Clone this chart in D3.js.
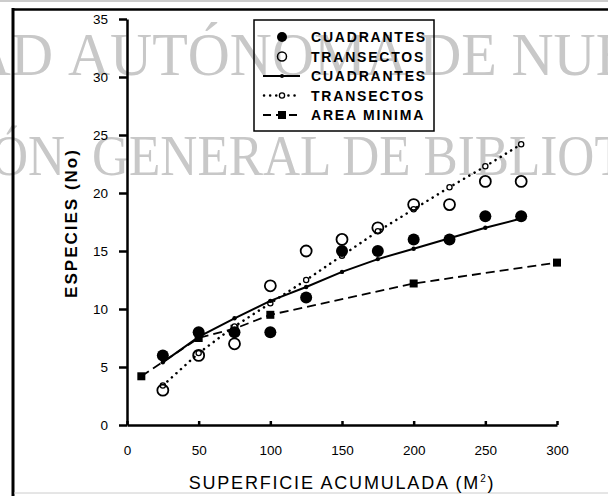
<!DOCTYPE html>
<html lang="es">
<head>
<meta charset="UTF-8">
<title>Especies vs superficie acumulada</title>
<script src="https://cdn.jsdelivr.net/npm/d3@7"></script>
<style>
  body { margin: 0; background: #fff; }
  svg { display: block; }
  .axis path, .axis line { stroke: #000; stroke-width: 2.5px; }
  .axis text { font: 13.5px "Liberation Sans", Arial, sans-serif; fill: #000; }
  .legend text { font: bold 14px "Liberation Sans", Arial, sans-serif; letter-spacing: 1.8px; }
  .wm { font-family: "Liberation Serif", "Times New Roman", serif; fill: #c8c8c8; }
</style>
</head>
<body>
<script>
// datos
const superficie = [25, 50, 75, 100, 125, 150, 175, 200, 225, 250, 275];
const cuadrantesObs = [6, 8, 8, 8, 11, 15, 15, 16, 16, 18, 18];
const transectosObs = [3, 6, 7, 12, 15, 16, 17, 19, 19, 21, 21];
const cuadrantesAjuste = [5.4, 7.6, 9.2, 10.7, 11.9, 13.2, 14.3, 15.2, 16.1, 17.0, 17.8];
const transectosAjuste = [3.4, 6.2, 8.5, 10.5, 12.5, 14.6, 16.7, 18.6, 20.5, 22.3, 24.2];
const areaMinX = [10, 50, 75, 100, 200, 300];
const areaMinY = [4.2, 7.5, 8.3, 9.5, 12.2, 14.0];
const xTicks = [0, 50, 100, 150, 200, 250, 300];
const yTicks = [0, 5, 10, 15, 20, 25, 30, 35];
const leyenda = ["CUADRANTES", "TRANSECTOS", "CUADRANTES", "TRANSECTOS", "AREA MINIMA"];

const width = 608, height = 496;
const svg = d3.select("body").append("svg")
  .attr("width", width).attr("height", height);

// marca de agua del escaneo
const wm1 = svg.append("g").attr("transform", "translate(0,75) scale(0.94,1)");
wm1.append("text").attr("class", "wm").attr("font-size", 62)
  .attr("x", 53 / 0.94).attr("text-anchor", "end").text("UNIVERSIDAD");
wm1.append("text").attr("class", "wm").attr("font-size", 62)
  .attr("x", 68 / 0.94).text("AUTÓNOMA DE NUEVO LEÓN");
const wm2 = svg.append("g").attr("transform", "translate(0,175) scale(0.9,1)");
wm2.append("text").attr("class", "wm").attr("font-size", 57)
  .attr("x", 65 / 0.9).attr("text-anchor", "end").text("DIRECCIÓN");
wm2.append("text").attr("class", "wm").attr("font-size", 57)
  .attr("x", 92 / 0.9).text("GENERAL DE BIBLIOTECAS");

// marco de la pagina
svg.append("line").attr("x1", 0).attr("x2", width).attr("y1", 1).attr("y2", 1)
  .attr("stroke", "#bbb").attr("stroke-width", 1.5);
svg.append("line").attr("x1", 13).attr("x2", width).attr("y1", 9.5).attr("y2", 9.5)
  .attr("stroke", "#000").attr("stroke-width", 2.5);
svg.append("line").attr("x1", 13).attr("x2", 13).attr("y1", 8).attr("y2", height)
  .attr("stroke", "#000").attr("stroke-width", 3);
svg.append("line").attr("x1", 14).attr("x2", width).attr("y1", 493).attr("y2", 493)
  .attr("stroke", "#ccc").attr("stroke-width", 1);

const x = d3.scaleLinear().domain([0, 300]).range([127, 557]);
const y = d3.scaleLinear().domain([0, 35]).range([425, 19]);

svg.append("g").attr("class", "axis")
  .attr("transform", "translate(0,425)")
  .call(d3.axisBottom(x).tickValues(xTicks).tickSizeInner(-4).tickSizeOuter(0).tickPadding(20));

svg.append("g").attr("class", "axis")
  .attr("transform", "translate(127,0)")
  .call(d3.axisLeft(y).tickValues(yTicks).tickSizeInner(8).tickSizeOuter(0).tickPadding(11));

svg.selectAll(".axis line").attr("stroke-width", 1.5);

// titulos
const xt = svg.append("text")
  .attr("x", 342).attr("y", 489).attr("text-anchor", "middle")
  .style("font", "18px 'Liberation Sans', Arial, sans-serif")
  .style("letter-spacing", "1.8px");
xt.append("tspan").text("SUPERFICIE ACUMULADA (M");
xt.append("tspan").attr("dy", -7).style("font-size", "10px").text("2");
xt.append("tspan").attr("dy", 7).text(")");

svg.append("text")
  .attr("transform", "translate(77,223) rotate(-90)")
  .attr("text-anchor", "middle")
  .style("font", "bold 17px 'Liberation Sans', Arial, sans-serif")
  .style("letter-spacing", "2px")
  .text("ESPECIES (No)");

// curvas
const line = d3.line().x(d => x(d[0])).y(d => y(d[1]));
const ptsCuad = superficie.map((s, i) => [s, cuadrantesAjuste[i]]);
const ptsTrans = superficie.map((s, i) => [s, transectosAjuste[i]]);
const ptsArea = areaMinX.map((s, i) => [s, areaMinY[i]]);

svg.append("path").datum(ptsArea).attr("d", line)
  .attr("fill", "none").attr("stroke", "#000").attr("stroke-width", 1.8)
  .attr("stroke-dasharray", "9,5");
svg.selectAll(".sq").data(ptsArea).enter().append("rect")
  .attr("x", d => x(d[0]) - 4).attr("y", d => y(d[1]) - 4)
  .attr("width", 8).attr("height", 8).attr("fill", "#000");

svg.append("path").datum(ptsTrans).attr("d", line)
  .attr("fill", "none").attr("stroke", "#000").attr("stroke-width", 2.5)
  .attr("stroke-linecap", "round").attr("stroke-dasharray", "0.1,6");
svg.selectAll(".tm").data(ptsTrans).enter().append("circle")
  .attr("cx", d => x(d[0])).attr("cy", d => y(d[1])).attr("r", 2.6)
  .attr("fill", "#fff").attr("stroke", "#000").attr("stroke-width", 1.3);

svg.append("path").datum(ptsCuad).attr("d", line)
  .attr("fill", "none").attr("stroke", "#000").attr("stroke-width", 2);
svg.selectAll(".cm").data(ptsCuad).enter().append("circle")
  .attr("cx", d => x(d[0])).attr("cy", d => y(d[1])).attr("r", 2.2).attr("fill", "#000");

// observaciones
svg.selectAll(".to").data(transectosObs).enter().append("circle")
  .attr("cx", (d, i) => x(superficie[i])).attr("cy", d => y(d)).attr("r", 5.5)
  .attr("fill", "none").attr("stroke", "#000").attr("stroke-width", 1.8);
svg.selectAll(".co").data(cuadrantesObs).enter().append("circle")
  .attr("cx", (d, i) => x(superficie[i])).attr("cy", d => y(d)).attr("r", 6)
  .attr("fill", "#000");

// leyenda
const lg = svg.append("g").attr("class", "legend");
lg.append("rect").attr("x", 254).attr("y", 20).attr("width", 180).attr("height", 111)
  .attr("fill", "none").attr("stroke", "#000").attr("stroke-width", 1.5);
const rowY = i => 37 + i * 19.5;
lg.selectAll("text").data(leyenda).enter().append("text")
  .attr("x", 311).attr("y", (d, i) => rowY(i) + 5).text(d => d);
lg.append("circle").attr("cx", 282).attr("cy", rowY(0)).attr("r", 5).attr("fill", "#000");
lg.append("circle").attr("cx", 282).attr("cy", rowY(1)).attr("r", 4.5)
  .attr("fill", "none").attr("stroke", "#000").attr("stroke-width", 1.5);
lg.append("line").attr("x1", 263).attr("x2", 300).attr("y1", rowY(2)).attr("y2", rowY(2))
  .attr("stroke", "#000").attr("stroke-width", 2);
lg.append("circle").attr("cx", 282).attr("cy", rowY(2)).attr("r", 2).attr("fill", "#000");
lg.append("line").attr("x1", 264).attr("x2", 300).attr("y1", rowY(3)).attr("y2", rowY(3))
  .attr("stroke", "#000").attr("stroke-width", 2.5).attr("stroke-linecap", "round")
  .attr("stroke-dasharray", "0.1,6");
lg.append("circle").attr("cx", 282).attr("cy", rowY(3)).attr("r", 2.6)
  .attr("fill", "#fff").attr("stroke", "#000").attr("stroke-width", 1.3);
lg.append("line").attr("x1", 263).attr("x2", 300).attr("y1", rowY(4)).attr("y2", rowY(4))
  .attr("stroke", "#000").attr("stroke-width", 1.8).attr("stroke-dasharray", "8,5");
lg.append("rect").attr("x", 278).attr("y", rowY(4) - 4).attr("width", 8).attr("height", 8)
  .attr("fill", "#000");
</script>
</body>
</html>
